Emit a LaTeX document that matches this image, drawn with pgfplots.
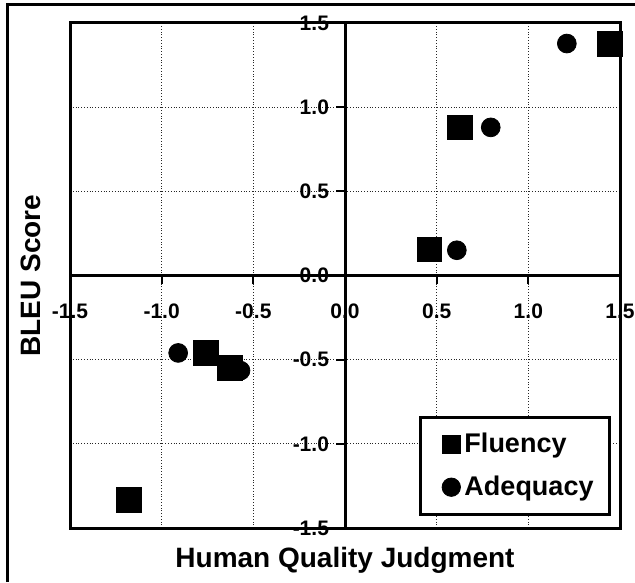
\documentclass[border=0pt]{standalone}
\usepackage{fontspec}
\setmainfont{Liberation Sans}
\usepackage{pgfplots}
\pgfplotsset{compat=1.18}
\begin{document}
\begin{tikzpicture}
\pgfplotsset{
  common/.style={scale only axis, width=275pt, height=252.5pt,
    xmin=-1.5, xmax=1.5, ymin=-1.5, ymax=1.5,
    xtick={-1.5,-1,-0.5,0,0.5,1,1.5}, ytick={-1.5,-1,-0.5,0,0.5,1,1.5}}
}
\begin{axis}[common, name=ax,
  axis line style={line width=1.5pt},
  grid=major, major grid style={densely dotted, black!85, line width=0.5pt},
  xticklabels={}, yticklabels={}, major tick length=0pt,
  xlabel={Human Quality Judgment}, ylabel={BLEU Score},
  label style={font=\fontsize{14}{16}\selectfont\bfseries},
  xlabel style={at={(axis description cs:0.5,-0.0634)}, anchor=center},
  ylabel style={at={(axis description cs:-0.0709,0.5)}, anchor=center},
  legend style={at={(axis cs:1.45,-0.835)}, anchor=north east, draw=black,
    line width=1.3pt, font=\fontsize{13.5}{15}\selectfont\bfseries,
    row sep=6pt, inner xsep=6pt, inner ysep=6pt, cells={anchor=west},
    /tikz/every even column/.append style={column sep=3pt}},
  legend image code/.code={\path[draw=none, fill=none] (0pt,-1pt) rectangle (14pt,1pt);
    \draw[#1, mark size=4.6pt, line width=0.4pt] plot coordinates {(9.5pt,0pt)};},
]
\addplot[only marks, mark=square*, mark size=6.2pt, black]
  coordinates {(-1.18,-1.335) (-0.76,-0.46) (-0.63,-0.55) (0.46,0.155) (0.626,0.88) (1.445,1.375)};
\addlegendentry{Fluency}
\addplot[only marks, mark=*, mark size=4.7pt, black]
  coordinates {(-0.91,-0.46) (-0.57,-0.565) (0.61,0.15) (0.795,0.88) (1.21,1.378)};
\addlegendentry{Adequacy}
\end{axis}
\begin{axis}[common,
  axis lines=middle, axis line style={-, line width=1.5pt},
  hide obscured x ticks=false, hide obscured y ticks=false,
  tick style={black, line width=1pt}, tick align=outside, major tick length=4.5pt,
  ticklabel style={font=\fontsize{10.5}{11}\selectfont\bfseries},
  xticklabel style={yshift=-6pt},
  /pgf/number format/.cd, fixed, fixed zerofill, precision=1, assume math mode=true,
]
\end{axis}
\draw[line width=1.5pt] ([xshift=-31pt,yshift=-27pt]ax.south west) -- ([xshift=-31pt,yshift=9pt]ax.north west) -- ([xshift=7.5pt,yshift=9pt]ax.north east);
\pgfresetboundingbox
\path ([xshift=-35pt,yshift=-27pt]ax.south west) rectangle ([xshift=7.5pt,yshift=11.5pt]ax.north east);
\end{tikzpicture}
\end{document}
